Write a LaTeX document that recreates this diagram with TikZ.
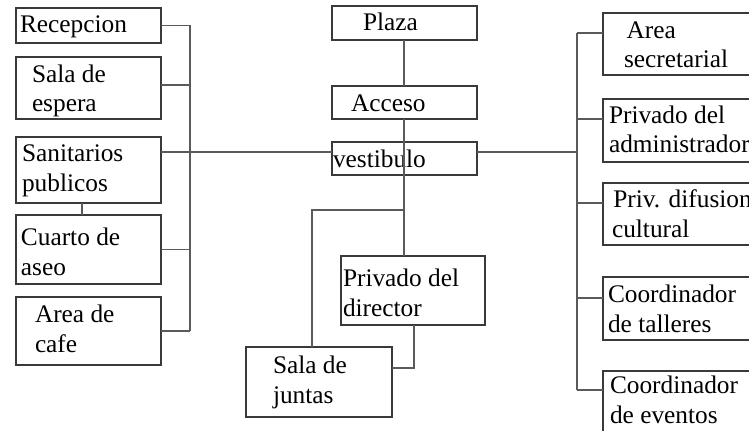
\documentclass[tikz,border=0pt]{standalone}
\usepackage{fontspec}
\setmainfont{Liberation Serif}
\usetikzlibrary{calc}
\definecolor{lnc}{HTML}{5A5A5A}
\definecolor{bxc}{HTML}{3A3A3A}
\tikzset{
  box/.style n args={2}{draw=bxc, line width=0.8pt, minimum width=#1*0.75pt, minimum height=#2*0.75pt,
    anchor=north west, inner sep=0pt, outer sep=0pt},
  txt/.style={anchor=base west, inner sep=0pt, outer sep=0pt, align=left,
    font=\fontsize{19}{21.8}\selectfont},
  conn/.style={draw=lnc, line width=0.8pt}
}
\begin{document}
\begin{tikzpicture}[x=0.75pt,y=-0.75pt]
\clip (0,0) rectangle (749,431);
\useasboundingbox (0,0) rectangle (749,431);
% left column boxes
\node[box={145}{35}] (rec) at (16,8) {};
\node[box={145}{62}] (sal) at (16,57) {};
\node[box={145}{66}] (san) at (16,137) {};
\node[box={145}{69}] (cua) at (16,215) {};
\node[box={145}{68}] (caf) at (16,297) {};
% center boxes
\node[box={145}{34}] (pla) at (332,6) {};
\node[box={145}{33}] (acc) at (332,86) {};
\node[box={145}{33}] (ves) at (332,142) {};
\node[box={144}{69}] (pdi) at (341,256) {};
\node[box={146}{70}] (sju) at (246,347) {};
% right boxes
\node[box={177}{62}] (are) at (603,13) {};
\node[box={177}{63}] (pad) at (603,99) {};
\node[box={177}{62}] (pdc) at (603,183) {};
\node[box={177}{63}] (cta) at (603,277) {};
\node[box={177}{62}] (cev) at (603,371) {};
% texts (anchor = baseline of last line)
\node[txt] (trec) at (20,33) {Recepcion};
\node[txt] (tsal) at (32,112) {Sala de\\espera};
\node[txt] (tsan) at (22,191) {Sanitarios\\publicos};
\node[txt] (tcua) at (21,275) {Cuarto de\\aseo};
\node[txt] (tcaf) at (35,352) {Area de\\cafe};
\node[txt] (tpla) at (363,31) {Plaza};
\node[txt] (tacc) at (351,112) {Acceso};
\node[txt] (tves) at (333,167) {vestibulo};
\node[txt] (tpdi) at (343,316) {Privado del\\director};
\node[txt] (tsju) at (273,403) {Sala de\\juntas};
\node[txt] (tare) at (624,68) {\hspace*{2pt}Area\\secretarial};
\node[txt] (tpad) at (609,153) {Privado del\\administrador};
\node[txt] (tpdc) at (612,237) {\hspace*{1pt}Priv. difusion\\cultural};
\node[txt] (tcta) at (608,332) {Coordinador\\de talleres};
\node[txt] (tcev) at (610,423) {Coordinador\\de eventos};
% helper coordinates
\coordinate (lb) at (190,152);
\coordinate (rb) at (577,152);
\coordinate (sx) at (82,0);
\coordinate (j) at (404,210);
\coordinate (jl) at (312,210);
\coordinate (px) at (414,368);
% left bus
\draw[conn] (rec.east) -- (rec.east -| lb);
\draw[conn] ($(sal.east)+(0,-3)$) -- ($(sal.east -| lb)+(0,-3)$);
\draw[conn] (cua.east) -- (cua.east -| lb);
\draw[conn] (caf.east) -- (caf.east -| lb);
\draw[conn] (rec.east -| lb) -- (caf.east -| lb);
\draw[conn] (san.east |- lb) -- (ves.west |- lb);
\draw[conn] (san.south -| sx) -- (cua.north -| sx);
% center spine
\draw[conn] (pla.south -| j) -- (acc.north -| j);
\draw[conn] (acc.south -| j) -- (j);
\draw[conn] (j) -- (pdi.north -| j);
\draw[conn] (j) -- (jl) -- (sju.north -| jl);
\draw[conn] (pdi.south -| px) -- (px) -- (sju.east |- px);
% right bus
\draw[conn] (ves.east |- rb) -- (rb);
\draw[conn] ($(are.north west)+(0,20)$) -- ($(are.north west -| rb)+(0,20)$);
\draw[conn] ($(pad.north west)+(0,20)$) -- ($(pad.north west -| rb)+(0,20)$);
\draw[conn] ($(pdc.north west)+(0,20)$) -- ($(pdc.north west -| rb)+(0,20)$);
\draw[conn] ($(cta.north west)+(0,21)$) -- ($(cta.north west -| rb)+(0,21)$);
\draw[conn] ($(cev.north west)+(0,19)$) -- ($(cev.north west -| rb)+(0,19)$);
\draw[conn] ($(are.north west -| rb)+(0,20)$) -- ($(cev.north west -| rb)+(0,19)$);
\end{tikzpicture}
\end{document}
